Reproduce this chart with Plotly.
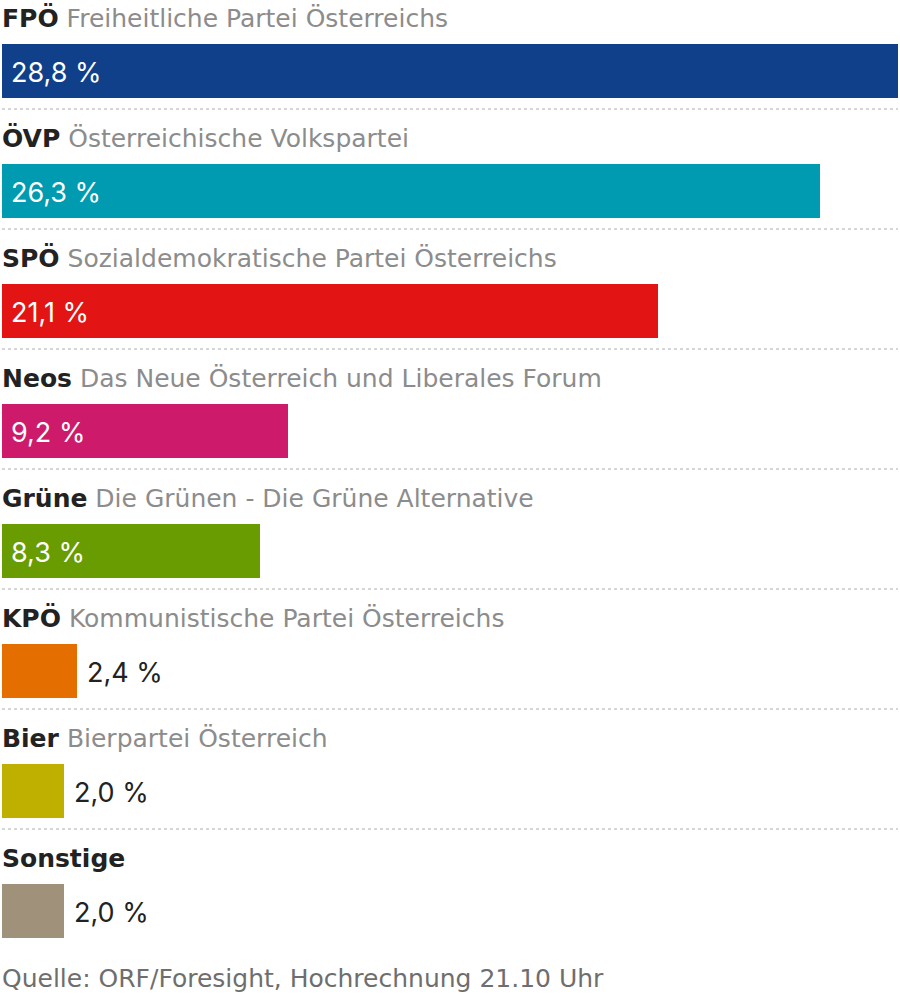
import plotly.graph_objects as go

parties = ["FPÖ", "ÖVP", "SPÖ", "Neos", "Grüne", "KPÖ", "Bier", "Sonstige"]
full_names = ["Freiheitliche Partei Österreichs", "Österreichische Volkspartei",
              "Sozialdemokratische Partei Österreichs", "Das Neue Österreich und Liberales Forum",
              "Die Grünen - Die Grüne Alternative", "Kommunistische Partei Österreichs",
              "Bierpartei Österreich", ""]
values = [28.8, 26.3, 21.1, 9.2, 8.3, 2.4, 2.0, 2.0]
labels = ["28,8 %", "26,3 %", "21,1 %", "9,2 %", "8,3 %", "2,4 %", "2,0 %", "2,0 %"]
colors = ["#10408a", "#009ab1", "#e31414", "#cd1a6b", "#689c00", "#e46e00", "#bfb000", "#a0917a"]
source = "Quelle: ORF/Foresight, Hochrechnung 21.10 Uhr"

FONT = "DejaVu Sans"
LABEL_FONT = "Inter"
rows = list(range(len(parties)))

fig = go.Figure(go.Bar(
    x=values, y=rows, orientation="h", width=0.45,
    marker=dict(color=colors, line=dict(width=0)),
    hoverinfo="skip",
))

annotations = []
shapes = []
for i, (p, n, v, lab) in enumerate(zip(parties, full_names, values, labels)):
    title = f"<b><span style='font-size:25px;color:#222222'>{p}</span></b>"
    if n:
        title += f" <span style='color:#8c8c8c'>{n}</span>"
    annotations.append(dict(x=0, y=i, xref="x", yref="y", text=title, showarrow=False,
                            xanchor="left", yanchor="middle", yshift=53, xshift=-2,
                            font=dict(family=FONT, size=25, color="#8c8c8c")))
    inside = v > 5
    annotations.append(dict(x=0 if inside else v, y=i, xref="x", yref="y", text=lab,
                            showarrow=False, xanchor="left", yanchor="middle",
                            xshift=7 if inside else 8, yshift=-1,
                            font=dict(family=LABEL_FONT, size=27,
                                      color="#ffffff" if inside else "#222222")))
    if i < len(parties) - 1:
        shapes.append(dict(type="line", xref="x", yref="y", x0=0, x1=28.8,
                           y0=i + 38 / 120, y1=i + 38 / 120,
                           line=dict(color="#d6d6d6", width=2, dash="dot")))

annotations.append(dict(x=0, y=0, xref="paper", yref="paper", text=source, showarrow=False,
                        xanchor="left", yanchor="middle", yshift=-7, xshift=-2,
                        font=dict(family=FONT, size=25, color="#6e6e6e")))

fig.update_layout(
    width=900, height=998,
    margin=dict(l=2, r=2, t=11, b=27),
    paper_bgcolor="white", plot_bgcolor="white",
    xaxis=dict(range=[0, 28.8], visible=False, fixedrange=True),
    yaxis=dict(range=[7.5, -0.5], visible=False, fixedrange=True),
    showlegend=False, annotations=annotations, shapes=shapes,
    bargap=0,
)

fig.write_html("out.html", config={"displayModeBar": False},
               post_script="document.body.style.margin='0';document.body.style.overflow='hidden';")
